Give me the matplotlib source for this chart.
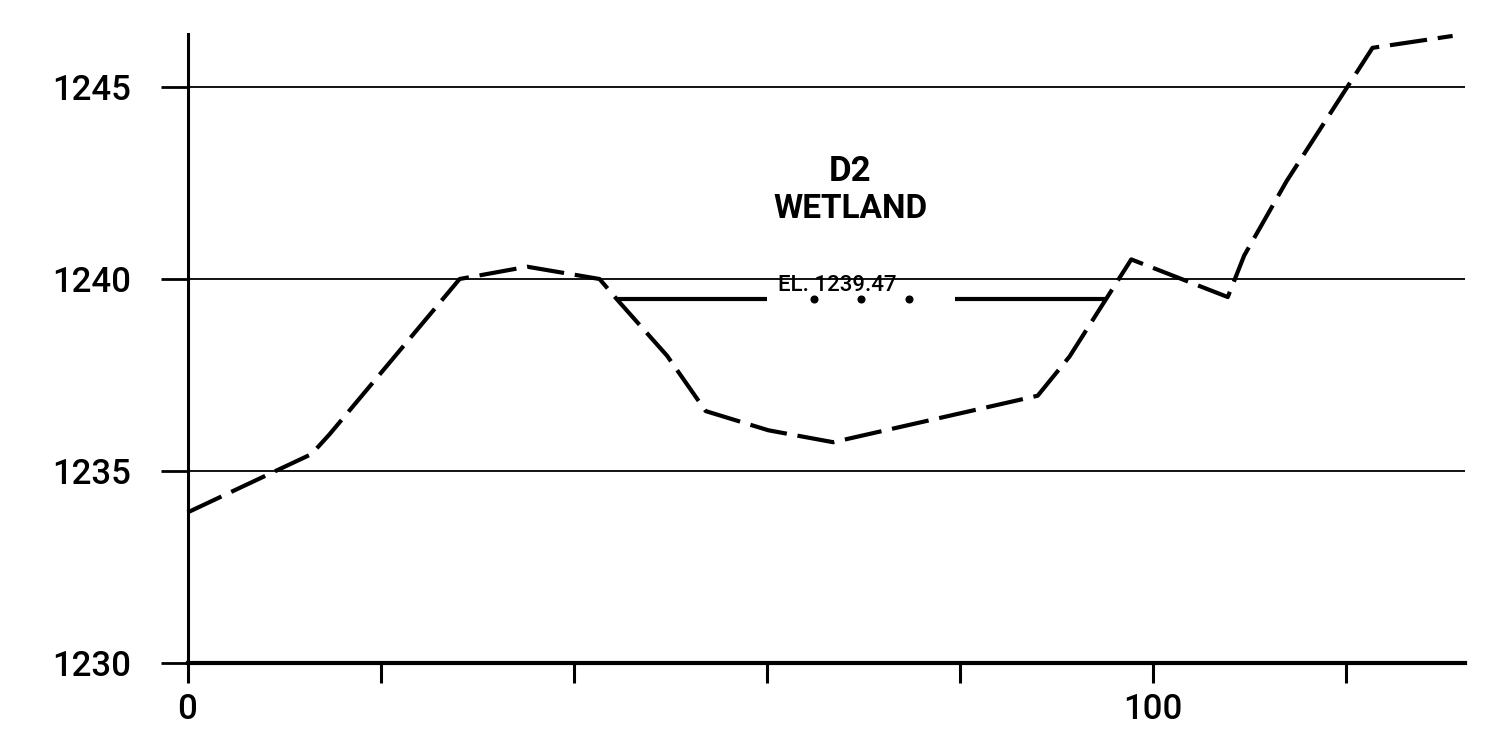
import matplotlib
matplotlib.use("Agg")
import matplotlib.pyplot as plt

plt.rcParams['font.family'] = ['Roboto', 'DejaVu Sans']

# ground profile (station, elevation)
station = [0, 12.85, 14.7, 28.2, 35.2, 42.7, 44.5, 49.7, 53.7, 60.2, 66.9,
           88.1, 91.4, 97.8, 107.8, 109.5, 113.9, 122.8, 131.1]
elev = [1233.92, 1235.44, 1235.95, 1240.0, 1240.32, 1240.0, 1239.47, 1238.0,
        1236.56, 1236.06, 1235.75, 1236.96, 1237.98, 1240.51, 1239.53,
        1240.61, 1242.55, 1246.02, 1246.33]

# water surface
water_el = 1239.47
water_start = [44.5, 79.5]
water_end = [60.0, 95.3]
dot_x = [64.9, 69.8, 74.8]

xticks = [0, 20, 40, 60, 80, 100, 120]
xticklabels = ['0', '', '', '', '', '100', '']
yticks = [1230, 1235, 1240, 1245]
yticklabels = ['1230', '1235', '1240', '1245']
grid_levels = [1235, 1240, 1245]

W, H = 1486, 738
fig = plt.figure(figsize=(W / 100, H / 100), dpi=100)
x0_px, x1_px = 187.5, 1465
y0_px, y1_px = 663, 34
ax = fig.add_axes([x0_px / W, 1 - y0_px / H, (x1_px - x0_px) / W, (y0_px - y1_px) / H])
ax.set_xlim(0, (x1_px - x0_px) / 9.65)
ax.set_ylim(1230, 1230 + (y0_px - y1_px) / 38.4)

for s in ['top', 'right']:
    ax.spines[s].set_visible(False)
ax.spines['left'].set_linewidth(2.2)
ax.spines['bottom'].set_linewidth(3.0)

for g in grid_levels:
    ax.axhline(g, color='#111111', lw=1.4, zorder=1)

ax.set_xticks(xticks)
ax.set_xticklabels(xticklabels, fontweight='medium')
ax.set_yticks(yticks)
ax.set_yticklabels(yticklabels, fontweight='medium')
ax.tick_params(axis='x', direction='out', length=14.5, width=2.2, pad=7,
               labelsize=25)
ax.tick_params(axis='y', direction='out', length=19.5, width=2.0, pad=21,
               labelsize=25)

ax.plot(station, elev, color='black', lw=3.0, linestyle=(0, (9, 2.6)),
        dash_capstyle='butt', clip_on=False, zorder=3)

ax.hlines([water_el] * len(water_start), water_start, water_end,
          color='black', lw=3.0, zorder=3)
ax.plot(dot_x, [water_el] * len(dot_x), 'o', color='black', ms=4.8, zorder=3)

ax.text(68.7, 1242.56, 'D2', ha='center', va='baseline', fontsize=25,
        fontweight='bold')
ax.text(68.7, 1241.60, 'WETLAND', ha='center', va='baseline', fontsize=24,
        fontweight='bold')
ax.text(67.3, 1239.70, 'EL. 1239.47', ha='center', va='baseline', fontsize=16,
        fontweight='medium')

fig.savefig('out.png', dpi=100)
